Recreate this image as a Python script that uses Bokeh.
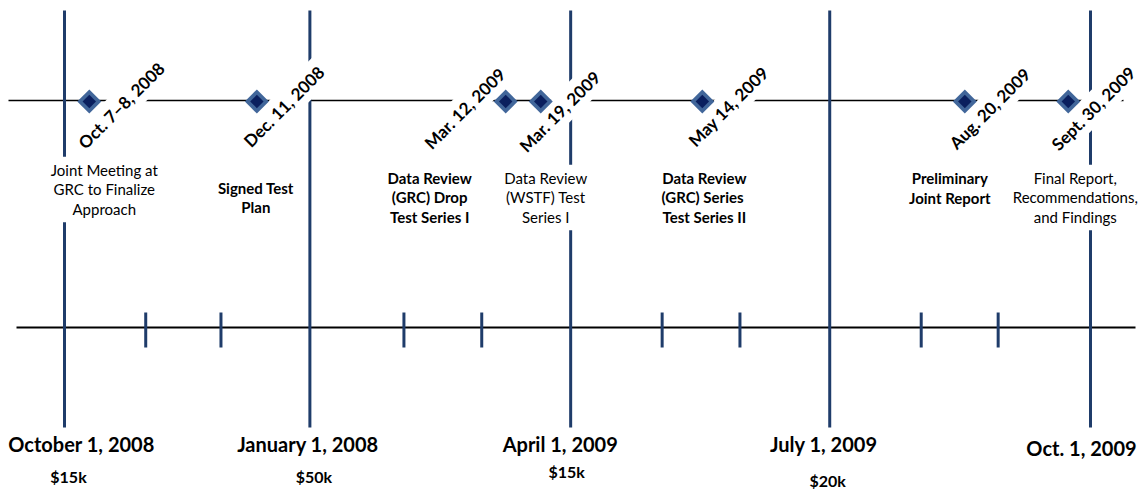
import math
from bokeh.plotting import figure
from bokeh.models import Range1d, Label, ColumnDataSource
from bokeh.embed import file_html
from bokeh.resources import INLINE

# ---------------- data (timeline positions in months after Oct. 1, 2008, as drawn) -------------
quarter_labels = ["October 1, 2008", "January 1, 2008", "April  1, 2009", "July 1, 2009", "Oct. 1, 2009"]
quarter_pos = [0.0, 2.87, 5.92, 8.95, 12.0]
month_pos = [0.95, 1.83, 3.97, 4.88, 6.99, 7.90, 10.02, 10.92]
funding = ["$15k", "$50k", "$15k", "$20k"]

milestone_dates = ["Oct. 7\u20138, 2008", "Dec. 11, 2008", "Mar. 12, 2009", "Mar. 19, 2009",
                   "May 14, 2009", "Aug. 20, 2009", "Sept. 30, 2009"]
milestone_pos = [0.29, 2.25, 5.16, 5.57, 7.46, 10.53, 11.74]
milestone_text = [
    "Joint Meeting at\nGRC to Finalize\nApproach",
    "Signed Test\nPlan",
    "Data Review\n(GRC) Drop\nTest Series I",
    "Data Review\n(WSTF) Test\nSeries I",
    "Data Review\n(GRC)  Series\nTest Series II",
    "Preliminary\nJoint Report",
    "Final Report,\nRecommendations,\nand Findings",
]
milestone_bold = [False, True, True, False, True, True, False]

# ---------------- layout (page pixels) ----------------
W, H = 1143, 491
PX_PER_MONTH = 85.5
X0_PX = 64.0


def X(px):
    return (px - X0_PX) / PX_PER_MONTH


def Y(py):
    return H - py


NAVY = "#1F3C6A"
FONT = "Lato"

date_dx = [32, 27, -41, 19, 26, 25, 25]
date_dy = [5, 6, 8, 11, 6, 8, 8]
desc_dx = [15, -1, -76, 5, 2, -15, 7]
desc_cy = [189, 197, 197, 197, 197, 187.5, 197]
q_label_dx = [17, -2, -8, -6, -9]
q_label_y = [443, 443, 443, 443, 447]
fund_dx = [4, 4, -4, -2]
fund_y = [476, 476, 471, 480]

p = figure(width=W, height=H, output_backend="svg", toolbar_location=None,
           x_range=Range1d(X(0), X(W)), y_range=Range1d(0, H),
           min_border=0, min_border_left=0, min_border_right=0,
           min_border_top=0, min_border_bottom=0)
p.axis.visible = False
p.grid.visible = False
p.outline_line_color = None
p.background_fill_color = "white"
p.border_fill_color = "white"

# horizontal lines
p.segment(x0=[X(8)], y0=[Y(100)], x1=[X(1123)], y1=[Y(100)], line_color="black", line_width=1.5)
p.segment(x0=[X(16)], y0=[Y(327)], x1=[X(1135)], y1=[Y(327)], line_color="black", line_width=2)

# quarter lines
qs = ColumnDataSource(dict(x=quarter_pos))
p.segment(x0="x", y0=Y(10), x1="x", y1=Y(427), source=qs, line_color=NAVY, line_width=3)

# month ticks
ms = ColumnDataSource(dict(x=month_pos))
p.segment(x0="x", y0=Y(312), x1="x", y1=Y(347), source=ms, line_color=NAVY, line_width=3)

# milestone date labels (rotated, with white boxes)
for i, t in enumerate(milestone_dates):
    p.add_layout(Label(x=milestone_pos[i], y=Y(100), x_offset=date_dx[i], y_offset=-date_dy[i],
                       text=t, angle=math.pi / 4, text_align="center", text_baseline="middle",
                       text_font=FONT, text_font_style="bold", text_font_size="17px",
                       text_color="black", background_fill_color="white", padding=4))

# milestone descriptions
for i, t in enumerate(milestone_text):
    p.add_layout(Label(x=milestone_pos[i], y=Y(desc_cy[i]), x_offset=desc_dx[i],
                       text=t, text_align="center", text_baseline="middle",
                       text_font=FONT, text_font_style="bold" if milestone_bold[i] else "normal",
                       text_font_size="15px", text_line_height=1.1, text_color="black",
                       background_fill_color="white", padding=4))

# diamonds
ds = ColumnDataSource(dict(x=milestone_pos, y=[Y(101)] * len(milestone_pos)))
outer = p.scatter("x", "y", source=ds, marker="square", size=17, angle=math.pi / 4,
                  fill_color="#41669A", line_color=None)
inner = p.scatter("x", "y", source=ds, marker="square", size=9.5, angle=math.pi / 4,
                  fill_color="#0A1F5E", line_color=None)
outer.level = "overlay"
inner.level = "overlay"

# quarter date labels
for i, t in enumerate(quarter_labels):
    p.add_layout(Label(x=quarter_pos[i], y=Y(q_label_y[i]), x_offset=q_label_dx[i],
                       text=t, text_align="center", text_baseline="middle",
                       text_font=FONT, text_font_style="bold", text_font_size="20px",
                       text_color="black"))

# funding labels
for i, t in enumerate(funding):
    p.add_layout(Label(x=quarter_pos[i], y=Y(fund_y[i]), x_offset=fund_dx[i],
                       text=t, text_align="center", text_baseline="middle",
                       text_font=FONT, text_font_style="bold", text_font_size="16px",
                       text_color="black"))

open("out.html", "w").write(file_html(p, INLINE))
